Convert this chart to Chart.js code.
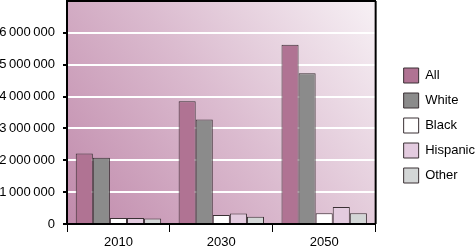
<!DOCTYPE html>
<html>
<head>
<meta charset="utf-8">
<script src="https://cdn.jsdelivr.net/npm/chart.js@4/dist/chart.umd.min.js"></script>
<style>
  html, body { margin: 0; padding: 0; background: #fff; }
  #wrap { width: 475px; height: 251px; }
</style>
</head>
<body>
<div id="wrap"><canvas id="popChart" width="475" height="251"></canvas></div>
<script>
// years on the x axis
const years = ['2010', '2030', '2050'];
// population per group
const all = [2210000, 3850000, 5630000];
const white = [2080000, 3280000, 4730000];
const black = [190000, 280000, 340000];
const hispanic = [190000, 330000, 530000];
const other = [170000, 230000, 340000];
// y axis ticks
const yTicks = [0, 1000000, 2000000, 3000000, 4000000, 5000000, 6000000];
const yMax = 7000000;

const fmt = v => String(v).replace(/\B(?=(\d{3})+(?!\d))/g, '\u2009');

// gradient behind the plot, black frame on the right
const plotBg = {
    id: 'plotBg',
    beforeDraw(chart) {
        const {ctx, chartArea: a} = chart;
        const g = ctx.createLinearGradient(a.left, a.bottom, a.right, a.top);
        g.addColorStop(0, '#c08aab');
        g.addColorStop(0.5, '#dbbbcf');
        g.addColorStop(1, '#f7f1f5');
        ctx.save();
        ctx.fillStyle = g;
        ctx.fillRect(a.left, a.top, a.right - a.left, a.bottom - a.top);
        ctx.restore();
    },
    afterDraw(chart) {
        const {ctx, chartArea: a} = chart;
        ctx.save();
        ctx.strokeStyle = '#000';
        ctx.lineWidth = 2;
        ctx.beginPath();
        ctx.moveTo(a.right, a.top);
        ctx.lineTo(a.right, a.bottom);
        ctx.stroke();
        ctx.restore();
    }
};

const bar = (label, data, color) => ({
    label: label,
    data: data,
    backgroundColor: color,
    borderColor: '#3a3034',
    borderWidth: 1,
    xAxisID: 'x',
    yAxisID: 'y'
});

const popData = {
    labels: years,
    datasets: [
        bar('All', all, '#b07393'),
        bar('White', white, '#8b8b8b'),
        bar('Black', black, '#ffffff'),
        bar('Hispanic', hispanic, '#e3cbdf'),
        bar('Other', other, '#d3d6d6')
    ]
};

const font13 = { family: 'Liberation Sans, Arial', size: 13 };

const popConfig = {
    type: 'bar',
    data: popData,
    options: {
        responsive: false,
        animation: false,
        categoryPercentage: 0.83,
        barPercentage: 1,
        layout: { padding: { left: 0, top: 0, bottom: 0, right: -10 } },
        scales: {
            x: {
                grid: {
                    offset: true,
                    drawOnChartArea: false,
                    color: '#000',
                    tickLength: 8
                },
                border: { color: '#000', width: 2 },
                ticks: { color: '#000', font: font13, padding: 3 },
                afterFit: s => { s.height = 27; s.paddingLeft = 0; s.paddingRight = 0; }
            },
            xTop: {
                position: 'top',
                grid: { display: false },
                ticks: { display: false },
                border: { color: '#000', width: 2 },
                afterFit: s => { s.height = 1; }
            },
            y: {
                min: 0,
                max: yMax,
                afterBuildTicks: s => { s.ticks = yTicks.map(v => ({ value: v })); },
                afterFit: s => { s.width = 67; s.paddingTop = 0; s.paddingBottom = 0; },
                grid: {
                    color: '#ffffff',
                    lineWidth: 2,
                    tickColor: '#000',
                    tickLength: 4
                },
                border: { color: '#000', width: 2 },
                ticks: {
                    color: '#000',
                    font: font13,
                    padding: 8,
                    callback: v => fmt(v)
                }
            },
            yRight: {
                display: false,
                position: 'right',
                afterFit: s => { s.width = 18; s.paddingTop = 0; s.paddingBottom = 0; }
            }
        },
        plugins: {
            legend: {
                display: true,
                position: 'right',
                labels: {
                    color: '#000',
                    boxWidth: 15,
                    boxHeight: 15,
                    padding: 10,
                    font: { family: 'Liberation Sans, Arial', size: 13 }
                }
            },
            tooltip: { enabled: false }
        }
    },
    plugins: [plotBg]
};

const popChart = new Chart(document.querySelector('#popChart'), popConfig);
</script>
</body>
</html>
